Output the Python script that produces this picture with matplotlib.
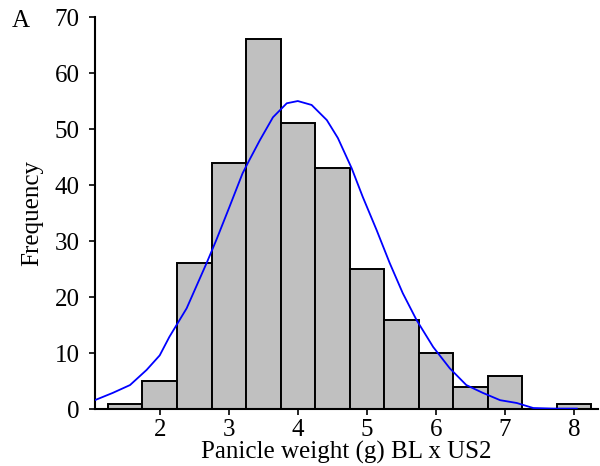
import matplotlib
matplotlib.use('Agg')
import matplotlib.pyplot as plt

plt.rcParams.update({
    'font.family': 'Liberation Serif',
    'font.size': 18,
})

# histogram bins (left edges, width 0.5) and counts
bin_left = [1.25, 1.75, 2.25, 2.75, 3.25, 3.75, 4.25, 4.75, 5.25, 5.75, 6.25, 6.75, 7.25, 7.75]
counts = [1, 5, 26, 44, 66, 51, 43, 25, 16, 10, 4, 6, 0, 1]
bin_width = 0.5

# fitted curve
curve_x = [1.06, 1.32, 1.57, 1.81, 2.0, 2.14, 2.39, 2.68, 2.82, 3.01, 3.2, 3.30,
           3.45, 3.64, 3.84, 4.0, 4.2, 4.42, 4.58, 4.78, 4.94, 5.14, 5.33, 5.52,
           5.72, 5.96, 6.2, 6.44, 6.68, 6.93, 7.17, 7.41, 7.7, 8.04]
curve_y = [1.6, 2.9, 4.3, 7.0, 9.6, 12.9, 18.0, 26.1, 30.2, 36.1, 42.1, 44.5,
           48.0, 52.1, 54.6, 55.0, 54.3, 51.6, 48.4, 43.0, 37.9, 32.0, 26.1, 20.7,
           15.9, 11.1, 7.3, 4.3, 2.9, 1.6, 1.1, 0.2, 0.1, 0.1]

xticks = [2, 3, 4, 5, 6, 7, 8]
yticks = [0, 10, 20, 30, 40, 50, 60, 70]

fig = plt.figure(figsize=(6.0, 4.66), dpi=100)
ax = fig.add_axes([0.158, 0.122, 0.839, 0.8415])

ax.bar(bin_left, counts, width=bin_width, align='edge',
       color='#c0c0c0', edgecolor='black', linewidth=1.4, zorder=2)
ax.plot(curve_x, curve_y, color='#0000ff', linewidth=1.3, zorder=3)

ax.set_xlim(1.06, 8.35)
ax.set_ylim(0, 70)
ax.set_xticks(xticks)
ax.set_yticks(yticks)

for s in ['top', 'right']:
    ax.spines[s].set_visible(False)
for s in ['left', 'bottom']:
    ax.spines[s].set_linewidth(1.5)
ax.tick_params(direction='out', length=4, width=1.2, labelsize=18)
ax.tick_params(axis='x', pad=3)
ax.tick_params(axis='y', pad=7)

ax.set_xlabel('Panicle weight (g) BL x US2', fontsize=18, labelpad=0)
ax.set_ylabel('Frequency', fontsize=18, labelpad=8)
fig.text(0.02, 0.954, 'A', fontsize=18, ha='left', va='center')

fig.savefig('out.png', dpi=100)
